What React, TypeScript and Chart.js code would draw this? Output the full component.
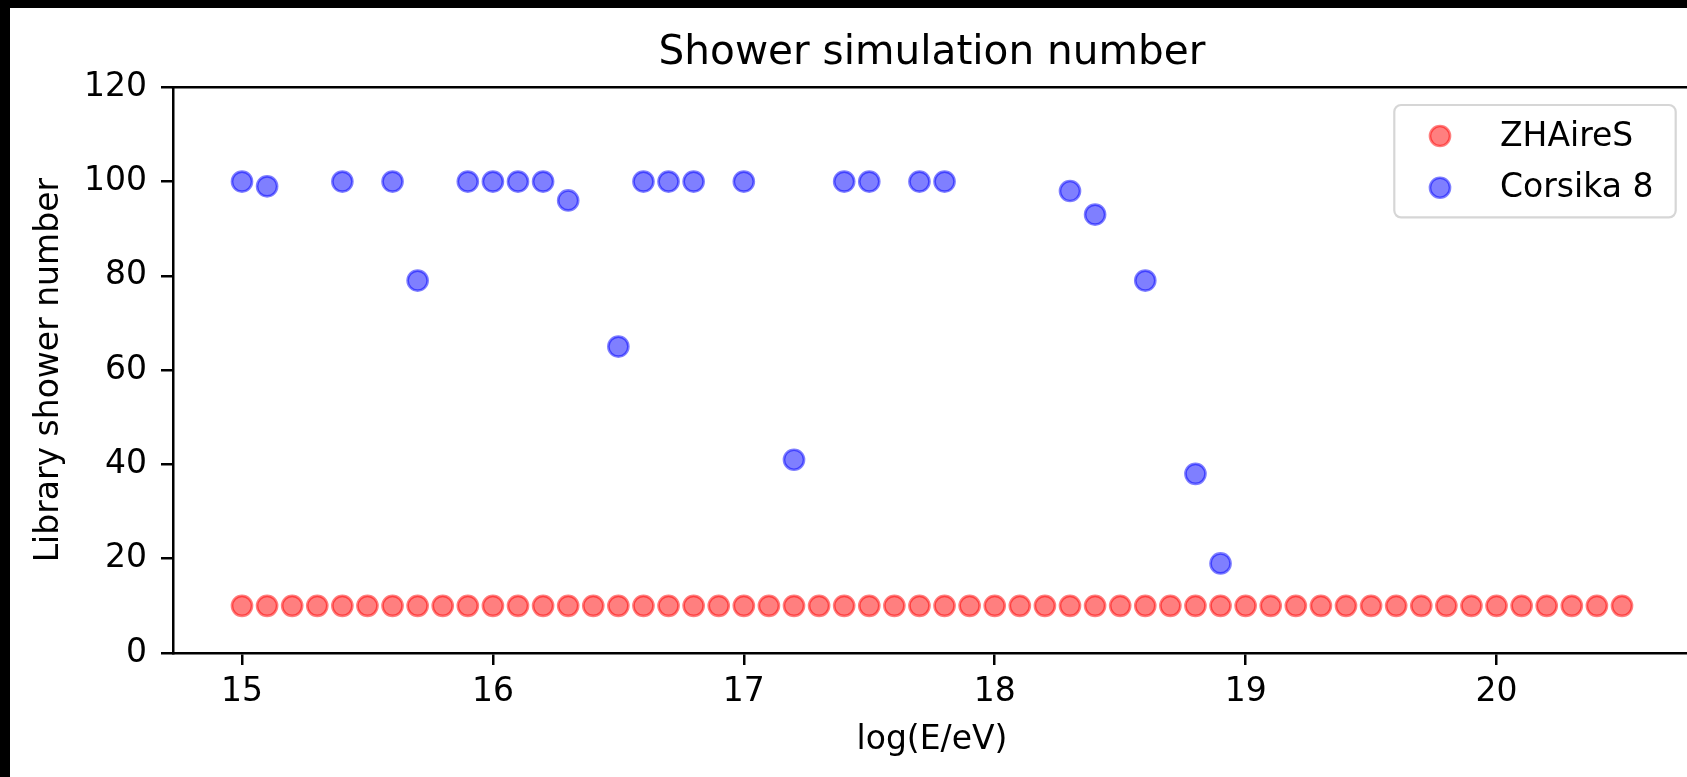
import React, { useEffect, useRef } from 'react';
import { Chart, registerables } from 'chart.js';

Chart.register(...registerables);

// ---- data ----
const zhairesEnergy = [
  15.0, 15.1, 15.2, 15.3, 15.4, 15.5, 15.6, 15.7, 15.8, 15.9,
  16.0, 16.1, 16.2, 16.3, 16.4, 16.5, 16.6, 16.7, 16.8, 16.9,
  17.0, 17.1, 17.2, 17.3, 17.4, 17.5, 17.6, 17.7, 17.8, 17.9,
  18.0, 18.1, 18.2, 18.3, 18.4, 18.5, 18.6, 18.7, 18.8, 18.9,
  19.0, 19.1, 19.2, 19.3, 19.4, 19.5, 19.6, 19.7, 19.8, 19.9,
  20.0, 20.1, 20.2, 20.3, 20.4, 20.5,
];
const zhairesCount = [
  10, 10, 10, 10, 10, 10, 10, 10, 10, 10,
  10, 10, 10, 10, 10, 10, 10, 10, 10, 10,
  10, 10, 10, 10, 10, 10, 10, 10, 10, 10,
  10, 10, 10, 10, 10, 10, 10, 10, 10, 10,
  10, 10, 10, 10, 10, 10, 10, 10, 10, 10,
  10, 10, 10, 10, 10, 10,
];
const corsikaEnergy = [
  15.0, 15.1, 15.4, 15.6, 15.7, 15.9, 16.0, 16.1, 16.2, 16.3,
  16.5, 16.6, 16.7, 16.8, 17.0, 17.2, 17.4, 17.5, 17.7, 17.8,
  18.3, 18.4, 18.6, 18.8, 18.9,
];
const corsikaCount = [
  100, 99, 100, 100, 79, 100, 100, 100, 100, 96,
  65, 100, 100, 100, 100, 41, 100, 100, 100, 100,
  98, 93, 79, 38, 19,
];
const seriesLabels = ['ZHAireS', 'Corsika 8'];
const xTickValues = [15, 16, 17, 18, 19, 20];
const yTickValues = [0, 20, 40, 60, 80, 100, 120];
const xLimits = [14.725, 20.775];
const yLimits = [0, 120];
const titleText = 'Shower simulation number';
const xAxisLabel = 'log(E/eV)';
const yAxisLabel = 'Library shower number';

const FONT = "'DejaVu Sans', sans-serif";
const CANVAS_W = 1700;
const CANVAS_H = 769;

function roundRectPath(ctx: CanvasRenderingContext2D, x: number, y: number, w: number, h: number, r: number) {
  ctx.beginPath();
  ctx.moveTo(x + r, y);
  ctx.lineTo(x + w - r, y);
  ctx.arcTo(x + w, y, x + w, y + r, r);
  ctx.lineTo(x + w, y + h - r);
  ctx.arcTo(x + w, y + h, x + w - r, y + h, r);
  ctx.lineTo(x + r, y + h);
  ctx.arcTo(x, y + h, x, y + h - r, r);
  ctx.lineTo(x, y + r);
  ctx.arcTo(x, y, x + r, y, r);
  ctx.closePath();
}

const frameAndLegend = {
  id: 'frameAndLegend',
  afterDraw(chart: any) {
    const { ctx, chartArea: a } = chart;
    ctx.save();
    // top spine
    ctx.strokeStyle = '#000';
    ctx.lineWidth = 2.5;
    ctx.beginPath();
    ctx.moveTo(a.left - 1.25, a.top);
    ctx.lineTo(a.right, a.top);
    ctx.stroke();
    // legend box
    const bw = 281.4;
    const bh = 112.3;
    const bx = a.right - 15.3 - bw;
    const by = a.top + 17.7;
    roundRectPath(ctx, bx, by, bw, bh, 6.7);
    ctx.fillStyle = 'rgba(255,255,255,0.8)';
    ctx.fill();
    ctx.strokeStyle = '#d6d6d6';
    ctx.lineWidth = 2.2;
    ctx.stroke();
    chart.data.datasets.forEach((ds: any, i: number) => {
      const cy = by + 31 + i * 51.7;
      ctx.beginPath();
      ctx.arc(bx + 45.7, cy, 10, 0, Math.PI * 2);
      ctx.fillStyle = ds.backgroundColor;
      ctx.fill();
      ctx.lineWidth = 2.67;
      ctx.strokeStyle = ds.borderColor;
      ctx.stroke();
      ctx.fillStyle = '#000';
      ctx.font = `33px ${FONT}`;
      ctx.textBaseline = 'alphabetic';
      ctx.textAlign = 'left';
      ctx.fillText(ds.label, bx + 105.7, by + 40.5 + i * 51.7);
    });
    ctx.restore();
  },
};

export default function App() {
  const canvasRef = useRef<HTMLCanvasElement | null>(null);

  useEffect(() => {
    document.documentElement.style.overflow = 'hidden';
    document.body.style.margin = '0';
    document.body.style.background = '#000';
    document.body.style.overflow = 'hidden';

    const canvas = canvasRef.current;
    if (!canvas) return;

    Chart.defaults.font.family = FONT;
    Chart.defaults.color = '#000';

    const axisGrid = {
      display: true,
      drawOnChartArea: false,
      drawTicks: true,
      tickLength: 12,
      tickWidth: 2.5,
      tickColor: '#000',
      color: '#000',
      lineWidth: 2.5,
    };
    const axisBorder = { display: true, color: '#000', width: 2.5 };

    const chart = new Chart(canvas, {
      type: 'scatter',
      data: {
        datasets: [
          {
            label: seriesLabels[0],
            data: zhairesEnergy.map((x, i) => ({ x, y: zhairesCount[i] })),
            backgroundColor: 'rgba(255,0,0,0.5)',
            borderColor: 'rgba(255,0,0,0.5)',
            pointRadius: 10,
            pointBorderWidth: 2.67,
          },
          {
            label: seriesLabels[1],
            data: corsikaEnergy.map((x, i) => ({ x, y: corsikaCount[i] })),
            backgroundColor: 'rgba(0,0,255,0.5)',
            borderColor: 'rgba(0,0,255,0.5)',
            pointRadius: 10,
            pointBorderWidth: 2.67,
          },
        ],
      },
      options: {
        responsive: false,
        animation: false,
        devicePixelRatio: 1,
        events: [],
        layout: { padding: { top: 0, left: 0, right: 19, bottom: 0 } },
        plugins: {
          legend: { display: false },
          tooltip: { enabled: false },
          title: {
            display: true,
            text: titleText,
            color: '#000',
            fullSize: false,
            font: { size: 40.6, family: FONT, weight: 'normal' },
            padding: { top: 21, bottom: 9.6 },
          },
        },
        scales: {
          x: {
            type: 'linear',
            min: xLimits[0],
            max: xLimits[1],
            afterBuildTicks: (axis: any) => {
              axis.ticks = xTickValues.map((v) => ({ value: v }));
            },
            afterFit: (scale: any) => {
              scale.height = 124;
            },
            grid: axisGrid,
            border: axisBorder,
            ticks: {
              padding: 8,
              color: '#000',
              maxRotation: 0,
              autoSkip: false,
              font: { size: 33, family: FONT },
            },
            title: {
              display: true,
              text: xAxisLabel,
              color: '#000',
              font: { size: 33, family: FONT },
              padding: { top: 0, bottom: 16.6 },
            },
          },
          y: {
            type: 'linear',
            min: yLimits[0],
            max: yLimits[1],
            afterBuildTicks: (axis: any) => {
              axis.ticks = yTickValues.map((v) => ({ value: v }));
            },
            afterFit: (scale: any) => {
              scale.width = 163;
            },
            grid: axisGrid,
            border: axisBorder,
            ticks: {
              padding: 14,
              color: '#000',
              autoSkip: false,
              font: { size: 33, family: FONT },
            },
            title: {
              display: true,
              text: yAxisLabel,
              color: '#000',
              font: { size: 33, family: FONT },
              padding: { top: 19.5, bottom: 0 },
            },
          },
        },
      },
      plugins: [frameAndLegend],
    } as any);

    return () => {
      chart.destroy();
    };
  }, []);

  return (
    <div
      style={{
        marginLeft: 10,
        marginTop: 8,
        width: 1677,
        height: CANVAS_H,
        overflow: 'hidden',
        background: '#fff',
      }}
    >
      <canvas
        ref={canvasRef}
        width={CANVAS_W}
        height={CANVAS_H}
        style={{ display: 'block', width: CANVAS_W, height: CANVAS_H }}
      />
    </div>
  );
}
